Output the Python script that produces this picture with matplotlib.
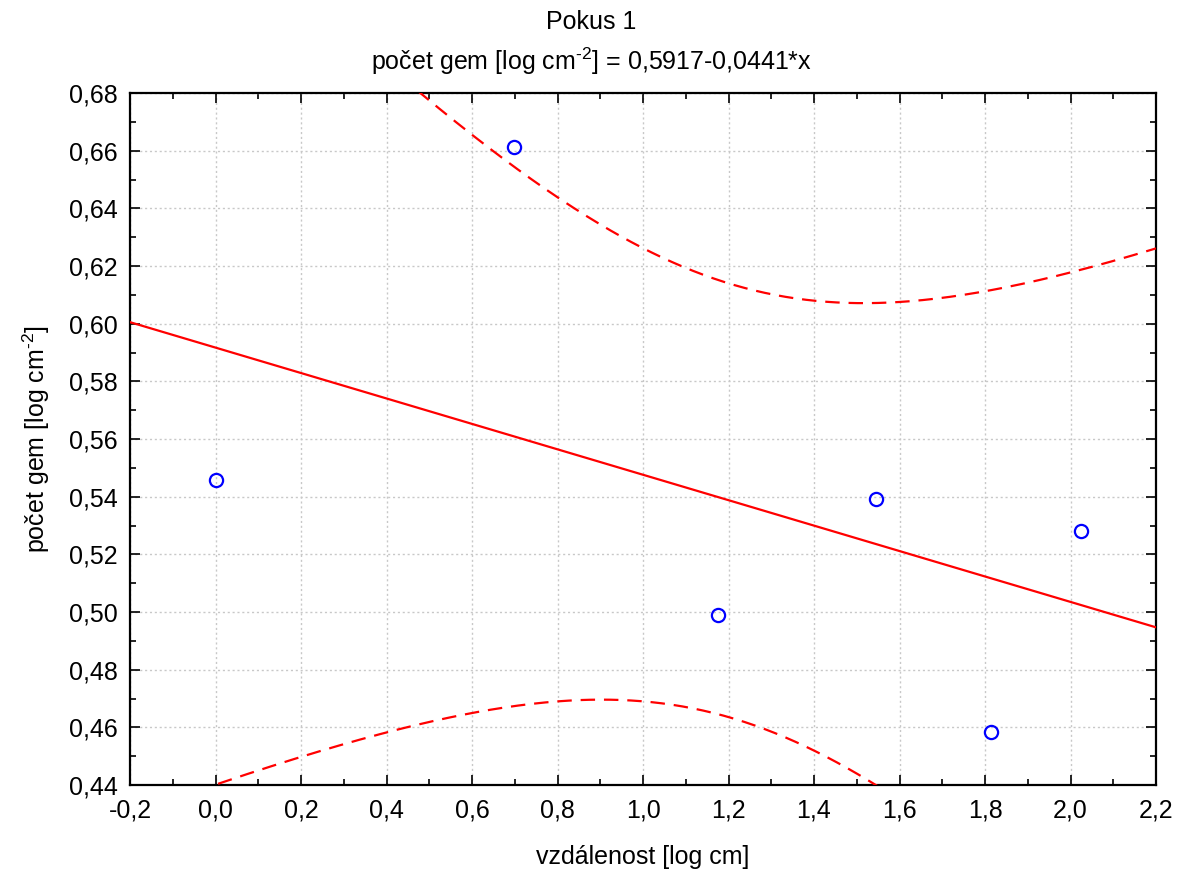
import numpy as np
import matplotlib
matplotlib.use("Agg")
import matplotlib.pyplot as plt
from matplotlib.ticker import MultipleLocator, FuncFormatter

# ---- data ----
distance_log = [0.0, 0.699, 1.176, 1.544, 1.813, 2.025]
gem_count_log = [0.5458, 0.6614, 0.4991, 0.5392, 0.4585, 0.5282]
intercept = 0.5917
slope = -0.0441
t_crit = 2.776  # Student t, 95 %, df = n-2 = 4

title_main = "Pokus 1"
title_eq = "počet gem [log cm$^{\u20102}$] = 0,5917-0,0441*x"
xlabel = "vzdálenost [log cm]"
ylabel = "počet gem [log cm$^{\u20102}$]"
xlim = (-0.2, 2.2)
ylim = (0.44, 0.68)

FS = 18

plt.rcParams['font.family'] = ['Liberation Sans', 'DejaVu Sans']
plt.rcParams['font.stretch'] = 'normal'
plt.rcParams['mathtext.fontset'] = 'custom'
plt.rcParams['mathtext.rm'] = 'Liberation Sans'
plt.rcParams['mathtext.it'] = 'Liberation Sans:italic'
plt.rcParams['mathtext.default'] = 'regular'

fig = plt.figure(figsize=(11.82, 8.72), dpi=100)
ax = fig.add_axes([130/1182, 1-785/872, (1156-130)/1182, (785-93)/872])

x = np.asarray(distance_log)
y = np.asarray(gem_count_log)
n = len(x)
resid = y - (intercept + slope * x)
s = np.sqrt(np.sum(resid**2) / (n - 2))
xm = x.mean()
sxx = np.sum((x - xm)**2)

xs = np.linspace(xlim[0], xlim[1], 300)
fit = intercept + slope * xs
half = t_crit * s * np.sqrt(1.0/n + (xs - xm)**2 / sxx)

ax.plot(xs, fit, color='#ff0000', lw=1.6, zorder=3)
ax.plot(xs, fit + half, color='#ff0000', lw=1.6, ls=(0, (6.5, 4)), zorder=3)
ax.plot(xs, fit - half, color='#ff0000', lw=1.6, ls=(0, (6.5, 4)), zorder=3)
ax.plot(x, y, 'o', mfc='none', mec='#0000ff', mew=1.6, ms=9.5, zorder=4, clip_on=False)

ax.set_xlim(*xlim)
ax.set_ylim(*ylim)
ax.xaxis.set_major_locator(MultipleLocator(0.2))
ax.xaxis.set_minor_locator(MultipleLocator(0.1))
ax.yaxis.set_major_locator(MultipleLocator(0.02))
ax.yaxis.set_minor_locator(MultipleLocator(0.01))
ax.xaxis.set_major_formatter(FuncFormatter(lambda v, p: f"{v:.1f}".replace('.', ',').replace('-0,0', '0,0')))
ax.yaxis.set_major_formatter(FuncFormatter(lambda v, p: f"{v:.2f}".replace('.', ',')))

ax.tick_params(which='both', direction='in', top=True, right=True, labelsize=FS, colors='black', width=1.2)
ax.tick_params(which='major', length=7)
ax.tick_params(axis='x', which='major', pad=10)
ax.tick_params(axis='y', which='major', pad=9)
ax.tick_params(which='minor', length=4)
for sp in ax.spines.values():
    sp.set_linewidth(1.6)
    sp.set_color('black')

ax.grid(True, which='major', color='#c8c8c8', ls=(0, (1.5, 2)), lw=1.0)
ax.set_axisbelow(True)

ax.set_xlabel(xlabel, fontsize=FS, labelpad=16)
ax.set_ylabel(ylabel, fontsize=FS, labelpad=12)

fig.text(0.5, 1-22/872, title_main, ha='center', va='center', fontsize=FS)
fig.text(0.5, 1-61/872, title_eq, ha='center', va='center', fontsize=FS)

fig.savefig("out.png", dpi=100, facecolor='white')
